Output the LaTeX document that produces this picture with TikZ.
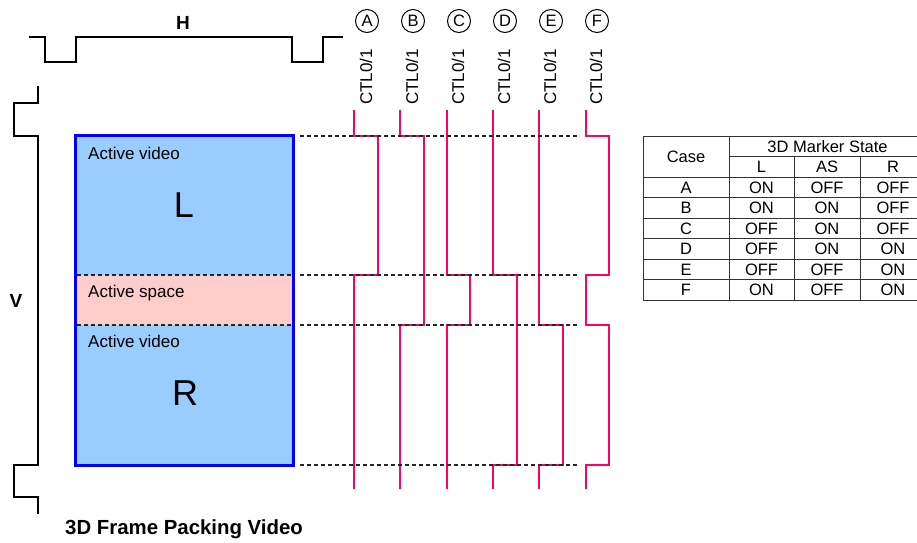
\documentclass[tikz,border=0pt]{standalone}
\usepackage{fontspec}
\setmainfont{Liberation Sans}
\definecolor{ctlpink}{HTML}{FF0066}
\definecolor{videoblue}{HTML}{99CCFF}
\definecolor{spacepink}{HTML}{FFCCCC}
\definecolor{frameblue}{HTML}{0000FF}
\begin{document}
\begin{tikzpicture}[x=1pt,y=-1pt,
 ctl/.style ={-,draw=ctlpink,line width=2pt},
 level/.style ={-,draw=black!85,line width=1.2pt,dash pattern=on 4pt off 3pt},
 sync/.style ={-,draw=black,line width=1.6pt},
 frame/.style ={draw=frameblue,line width=3pt},
 grid/.style ={-,draw=black!80,line width=1pt},
 txt/.style ={inner sep=0pt,font=\fontsize{17}{20}\selectfont},
 cell/.style ={inner sep=0pt,font=\fontsize{16.5}{19}\selectfont},
 big/.style ={inner sep=0pt,font=\fontsize{36}{40}\selectfont},
 bold/.style ={inner sep=0pt,font=\fontsize{19}{22}\selectfont\bfseries},
 case/.style ={draw=black,line width=1pt,circle,minimum size=23pt,inner sep=0pt,font=\fontsize{16.5}{18}\selectfont}
 ]
\useasboundingbox (0,0) rectangle (917,542);
%draw horizontal sync
\draw[sync] (29,37) -- (45,37) -- (45,62) -- (76,62) -- (76,37) -- (292,37) -- (292,62) -- (323,62) -- (323,37) -- (343,37);
\node[bold] (hlabel) at (183,23) {H};
%draw vertical sync
\draw[sync] (38,86) -- (38,103) -- (14,103) -- (14,136) -- (38,136) -- (38,465) -- (14,465) -- (14,497) -- (38,497) -- (38,514);
\node[bold] (vlabel) at (16,301) {V};
%draw frame
\fill[videoblue] (75,135) rectangle (293,465);
\fill[spacepink] (75,275) rectangle (293,325);
\draw[level] (77,275) -- (291,275);
\draw[level] (77,325) -- (291,325);
\draw[frame] (75,135) rectangle (293,465);
\node[txt,anchor=west] (lvideo) at (88,153) {Active video};
\node[big] (left) at (184,205.5) {L};
\node[txt,anchor=west] (space) at (88,293) {Active space};
\node[txt,anchor=west] (rvideo) at (88,341) {Active video};
\node[big] (right) at (185,393.5) {R};
\node[inner sep=0pt,anchor=west,font=\fontsize{20.4}{24}\selectfont\bfseries] (title) at (65,529) {3D Frame Packing Video};
%draw case A
\node[case] (cA) at (367,21) {A};
\node[txt,rotate=90] (tA) at (366,77) {CTL0/1};
\draw[ctl] (354,110) -- (354,136) -- (378,136) -- (378,275) -- (354,275) -- (354,489);
%draw case B
\node[case] (cB) at (413,21) {B};
\node[txt,rotate=90] (tB) at (412,77) {CTL0/1};
\draw[ctl] (400,110) -- (400,136) -- (424,136) -- (424,325) -- (400,325) -- (400,489);
%draw case C
\node[case] (cC) at (459,21) {C};
\node[txt,rotate=90] (tC) at (458,77) {CTL0/1};
\draw[ctl] (447,110) -- (447,275) -- (470,275) -- (470,325) -- (447,325) -- (447,489);
%draw case D
\node[case] (cD) at (505,21) {D};
\node[txt,rotate=90] (tD) at (504,77) {CTL0/1};
\draw[ctl] (493,110) -- (493,275) -- (517,275) -- (517,465) -- (493,465) -- (493,489);
%draw case E
\node[case] (cE) at (551,21) {E};
\node[txt,rotate=90] (tE) at (550,77) {CTL0/1};
\draw[ctl] (539,110) -- (539,325) -- (563,325) -- (563,465) -- (539,465) -- (539,489);
%draw case F
\node[case] (cF) at (597,21) {F};
\node[txt,rotate=90] (tF) at (596,77) {CTL0/1};
\draw[ctl] (586,110) -- (586,136) -- (609,136) -- (609,275) -- (586,275) -- (586,325) -- (609,325) -- (609,465) -- (586,465) -- (586,489);
%draw boundary levels
\draw[level] (300,136) -- (578,136);
\draw[level] (300,275) -- (578,275);
\draw[level] (300,325) -- (578,325);
\draw[level] (300,465) -- (578,465);
%draw table grid
\draw[grid] (643,136) rectangle (926,300);
\draw[grid] (729,156) -- (926,156);
\draw[grid] (643,177) -- (926,177);
\draw[grid] (643,197) -- (926,197);
\draw[grid] (643,218) -- (926,218);
\draw[grid] (643,238) -- (926,238);
\draw[grid] (643,259) -- (926,259);
\draw[grid] (643,279) -- (926,279);
\draw[grid] (729,136) -- (729,300);
\draw[grid] (794,156) -- (794,300);
\draw[grid] (860,156) -- (860,300);
%table header
\node[cell] (hcase) at (686,157) {Case};
\node[cell] (hstate) at (827.5,146.5) {3D Marker State};
\node[cell] (hl) at (761.5,167) {L};
\node[cell] (has) at (827,167) {AS};
\node[cell] (hr) at (893,167) {R};
%table rows
\node[cell] (rA) at (686,187.5) {A};
\node[cell] (rAl) at (761.5,187.5) {ON};
\node[cell] (rAas) at (827,187.5) {OFF};
\node[cell] (rAr) at (893,187.5) {OFF};
\node[cell] (rB) at (686,208) {B};
\node[cell] (rBl) at (761.5,208) {ON};
\node[cell] (rBas) at (827,208) {ON};
\node[cell] (rBr) at (893,208) {OFF};
\node[cell] (rC) at (686,228.5) {C};
\node[cell] (rCl) at (761.5,228.5) {OFF};
\node[cell] (rCas) at (827,228.5) {ON};
\node[cell] (rCr) at (893,228.5) {OFF};
\node[cell] (rD) at (686,249) {D};
\node[cell] (rDl) at (761.5,249) {OFF};
\node[cell] (rDas) at (827,249) {ON};
\node[cell] (rDr) at (893,249) {ON};
\node[cell] (rE) at (686,269.5) {E};
\node[cell] (rEl) at (761.5,269.5) {OFF};
\node[cell] (rEas) at (827,269.5) {OFF};
\node[cell] (rEr) at (893,269.5) {ON};
\node[cell] (rF) at (686,290) {F};
\node[cell] (rFl) at (761.5,290) {ON};
\node[cell] (rFas) at (827,290) {OFF};
\node[cell] (rFr) at (893,290) {ON};
\end{tikzpicture}
\end{document}
